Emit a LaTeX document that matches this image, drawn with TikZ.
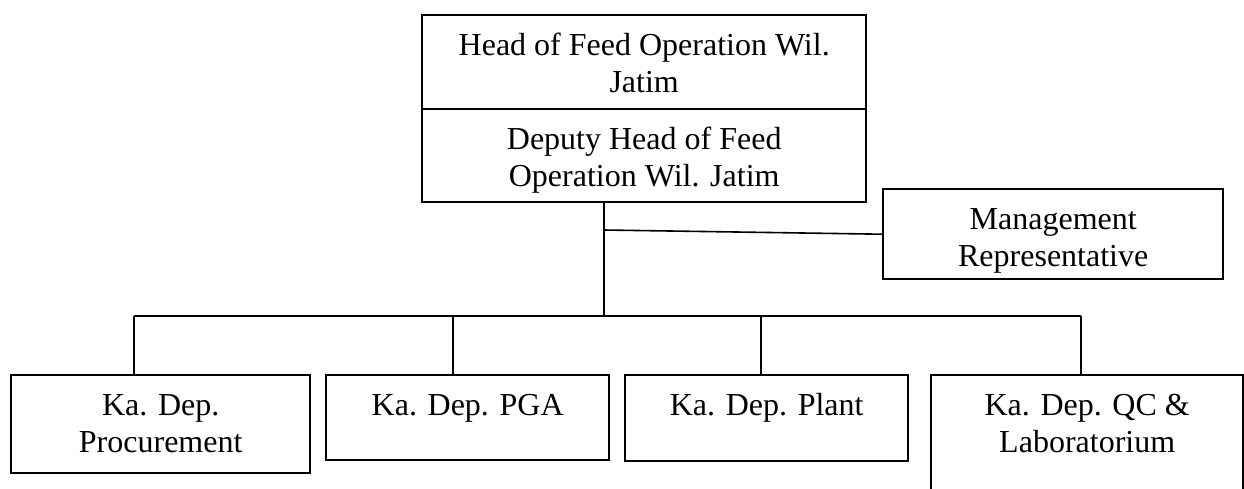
\documentclass[tikz,border=0pt]{standalone}
\usepackage{fontspec}
\setmainfont{Liberation Serif}
\newcommand{\bxt}[3]{\parbox[c][#2pt][t]{#1pt}{\centering\rule{0pt}{40pt}#3}}
\tikzset{
  box/.style={draw, line width=2.4pt, inner sep=0pt, anchor=north west,
    font=\fontsize{32}{37}\selectfont},
  conn/.style={line width=1.6pt}
}
\begin{document}
\begin{tikzpicture}[x=1pt,y=-1pt]
\useasboundingbox (0,0) rectangle (1244,488);
\clip (0,0) rectangle (1244,488);
\node[box] (head) at (421,14) {\bxt{444}{94}{Head of Feed Operation Wil.\\Jatim}};
\node[box] (dep) at (421,108) {\bxt{444}{93}{Deputy Head of Feed\\Operation Wil. Jatim}};
\node[box] (mgmt) at (882,188) {\bxt{340}{90}{\rule{0pt}{39pt}Management\\Representative}};
\node[box] (proc) at (10,374) {\bxt{299}{98}{Ka. Dep.\\Procurement}};
\node[box] (pga) at (325,374) {\bxt{283}{85}{Ka. Dep. PGA}};
\node[box] (plant) at (624,374) {\bxt{283}{86}{Ka. Dep. Plant}};
\node[box] (qc) at (930,374) {\bxt{312}{130}{\rule{0pt}{38pt}Ka. Dep. QC \&\\Laboratorium}};
\coordinate (trunk) at (604,316);
\coordinate (mj) at (604,230);
\coordinate (d1) at (134,316);
\coordinate (d2) at (453,316);
\coordinate (d3) at (761,316);
\coordinate (d4) at (1081,316);
\draw[conn] (dep.south -| trunk) -- (trunk);
\draw[conn] (mj) -- (mgmt.west);
\draw[conn] (d1) -- (d4);
\draw[conn] (d1) -- (d1 |- proc.north);
\draw[conn] (d2) -- (d2 |- pga.north);
\draw[conn] (d3) -- (d3 |- plant.north);
\draw[conn] (d4) -- (d4 |- qc.north);
\end{tikzpicture}
\end{document}
